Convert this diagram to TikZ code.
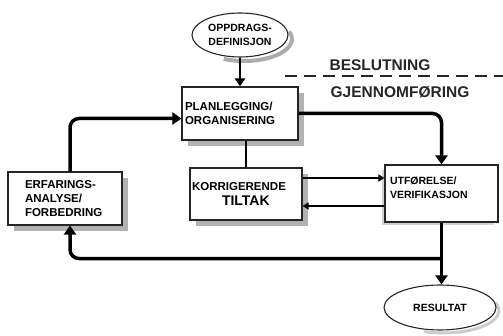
\documentclass[tikz,border=0pt]{standalone}
\usepackage{fontspec}
\setmainfont{Liberation Sans}
\usetikzlibrary{arrows.meta,shapes.geometric,calc}
\begin{document}
\begin{tikzpicture}[x=1pt,y=-1pt,
  shbox/.style={draw=black!85, line width=1.1pt, fill=white, rectangle, inner sep=0pt},
  shell/.style={draw=black!85, line width=1.1pt, fill=white, ellipse, inner sep=0pt},
  shadowline/.style={draw=gray!60, line width=6pt, line cap=butt, line join=miter},
  boxtxt/.style={font=\bfseries\fontsize{11.5}{14}\selectfont, align=left},
  bigarr/.style={line width=3.5pt, -{Triangle[length=9pt,width=12pt]}, rounded corners=9pt},
  midarr/.style={line width=2.2pt, -{Triangle[length=8pt,width=10pt]}},
  thinarr/.style={line width=1.6pt, -{Triangle[length=6pt,width=7pt]}},
  headtxt/.style={font=\bfseries\fontsize{15.5}{16}\selectfont, text=black!85}]
\useasboundingbox (0,0) rectangle (503,336);

% shadows (drawn first, behind the boxes)
\draw[shadowline] (301,93) -- (301,143) -- (188,143);
\draw[shadowline] (305,174) -- (305,223) -- (196,223);
\draw[shadowline] (125,178) -- (125,228) -- (14,228);
\draw[shadowline, draw=gray!35, line width=3pt] (383.5,170) -- (383.5,223.5) -- (494,223.5);
\draw[draw=gray!65, line width=4pt] (289.1,31.5) arc[start angle=-20, end angle=115, x radius=48, y radius=22];
\draw[draw=gray!40, line width=3pt] (495.6,302.8) arc[start angle=-20, end angle=110, x radius=56, y radius=22.5];

% nodes
\node[shell, minimum width=96pt, minimum height=44pt, font=\bfseries\fontsize{10.5}{14}\selectfont, align=center]
  (opp) at (240,35) {OPPDRAGS-\\DEFINISJON};
\node[shbox, minimum width=116pt, minimum height=53pt, boxtxt, text width=110pt]
  (plan) at (240,113.5) {PLANLEGGING/\\ORGANISERING};
\node[shbox, minimum width=112pt, minimum height=52pt, text width=108pt, align=left,
  font=\bfseries\fontsize{11.5}{15}\selectfont]
  (korr) at (246,194) {KORRIGERENDE\\\hspace*{30pt}{\fontsize{14}{15}\selectfont TILTAK}};
\node[shbox, minimum width=113pt, minimum height=57pt, text width=103pt, align=left,
  font=\bfseries\fontsize{10.5}{14}\selectfont]
  (utf) at (441.5,193.5) {UTFØRELSE/\\VERIFIKASJON\\[-2pt]\mbox{}};
\node[shbox, minimum width=114pt, minimum height=53pt, boxtxt, text width=80pt]
  (erf) at (65,198.5) {ERFARINGS-\\ANALYSE/\\FORBEDRING};
\node[shell, minimum width=112pt, minimum height=45pt, font=\bfseries\fontsize{10.5}{14}\selectfont]
  (res) at (440,307.5) {RESULTAT};

% decision line and labels
\coordinate (d1) at (285,76);
\coordinate (d2) at (503,76);
\draw[line width=2pt, black!85, dash pattern=on 12pt off 7pt] (d1) -- (d2);
\node[headtxt] (besl) at (380,65) {BESLUTNING};
\node[headtxt] (gjen) at (400,92) {GJENNOMFØRING};

% connectors
\draw[midarr] (opp.south) -- (opp.south |- plan.north);
\draw[line width=1.6pt] (korr.north) -- (korr.north |- plan.south);
\coordinate (pw) at ([yshift=-5pt]plan.west);
\draw[bigarr] ([xshift=5pt]erf.north) |- (pw);
\draw[bigarr] (plan.east) -| (utf.north);
\coordinate (j) at ($(utf.south)+(0,36)$);
\draw[line width=3.5pt] (utf.south) -- (j);
\draw[bigarr] (j) -- (j |- res.north);
\draw[bigarr] (j) -| ([xshift=5pt]erf.south);
\coordinate (k1) at ([yshift=16pt]korr.east);
\coordinate (k2) at ([yshift=-12pt]korr.east);
\draw[thinarr] (k1) -- (k1 -| utf.west);
\draw[thinarr] (k2 -| utf.west) -- (k2);
\end{tikzpicture}
\end{document}
